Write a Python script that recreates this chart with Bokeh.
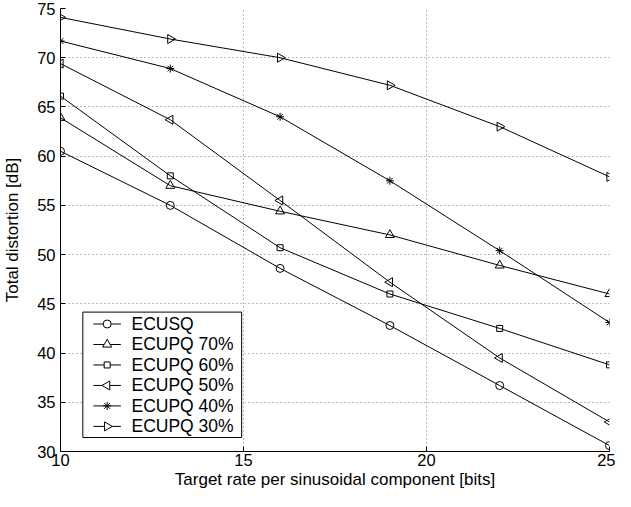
import math
from bokeh.plotting import figure
from bokeh.models import Range1d, FixedTicker
from bokeh.core.properties import value
from bokeh.embed import file_html
from bokeh.resources import INLINE

rate = [10, 13, 16, 19, 22, 25]
ecusq = [60.5, 55.0, 48.6, 42.8, 36.7, 30.6]
ecupq70 = [63.9, 57.0, 54.4, 52.0, 48.9, 46.0]
ecupq60 = [66.1, 58.0, 50.7, 46.0, 42.5, 38.8]
ecupq50 = [69.4, 63.7, 55.5, 47.2, 39.5, 33.0]
ecupq40 = [71.7, 68.9, 64.0, 57.5, 50.4, 43.1]
ecupq30 = [74.1, 71.9, 70.0, 67.2, 63.0, 57.9]

labels = ["ECUSQ", "ECUPQ 70%", "ECUPQ 60%", "ECUPQ 50%", "ECUPQ 40%", "ECUPQ 30%"]
series = [ecusq, ecupq70, ecupq60, ecupq50, ecupq40, ecupq30]
markers = ["circle", "triangle", "square", "triangle", "asterisk", "triangle"]
angles = [0, 0, 0, math.pi / 2, 0, -math.pi / 2]
sizes = [8, 9, 6, 9, 8, 9]

x_ticks = [10, 15, 20, 25]
y_ticks = [30, 35, 40, 45, 50, 55, 60, 65, 70, 75]

FONT = "Liberation Sans"

p = figure(width=615, height=491, output_backend="svg", toolbar_location=None,
           x_range=Range1d(10, 25), y_range=Range1d(30, 75),
           min_border_left=50, min_border_right=6, min_border_top=8, min_border_bottom=0)
p.outline_line_color = None
p.background_fill_color = "white"
p.border_fill_color = "white"

for ax in (p.xaxis[0], p.yaxis[0]):
    ax.major_label_text_font = FONT
    ax.major_label_text_font_size = "16.5px"
    ax.major_label_text_color = "black"
    ax.axis_label_text_font = FONT
    ax.axis_label_text_font_size = "17px"
    ax.axis_label_text_font_style = "normal"
    ax.axis_label_text_color = "black"
    ax.axis_line_color = "black"
    ax.major_tick_line_color = "black"
    ax.major_tick_in = 5
    ax.major_tick_out = 0
    ax.minor_tick_line_color = None

p.xaxis.ticker = FixedTicker(ticks=x_ticks)
p.yaxis.ticker = FixedTicker(ticks=y_ticks)
p.xaxis.axis_label = "Target rate per sinusoidal component [bits]"
p.yaxis.axis_label = "Total distortion [dB]"
p.xaxis.major_label_standoff = 2
p.xaxis.axis_label_standoff = 1
p.yaxis.major_label_standoff = 5
p.yaxis.axis_label_standoff = 12

for g in (p.xgrid[0], p.ygrid[0]):
    g.grid_line_color = "#777777"
    g.grid_line_dash = "1 3"
    g.grid_line_width = 1

for ys, mk, ang, sz in zip(series, markers, angles, sizes):
    p.line(rate, ys, line_color="black", line_width=1)
    p.scatter(rate, ys, marker=mk, angle=ang, size=sz, line_color="black",
              fill_color=None, line_width=1)

# legend (layout constants in axis units)
LEG_LEFT, LEG_RIGHT, LEG_BOTTOM, LEG_TOP = 10.61, 14.95, 31.42, 44.16
ROW0, ROW_STEP = 42.95, 2.08
GL_X0, GL_X1, GL_XM, TXT_X = 10.90, 11.65, 11.275, 11.94

p.quad(left=[LEG_LEFT], right=[LEG_RIGHT], bottom=[LEG_BOTTOM], top=[LEG_TOP],
       fill_color="white", line_color="black", line_width=1)
rows = [ROW0 - i * ROW_STEP for i in range(len(labels))]
p.segment(x0=[GL_X0] * len(rows), x1=[GL_X1] * len(rows), y0=rows, y1=rows,
          line_color="black", line_width=1)
for yr, mk, ang, sz in zip(rows, markers, angles, sizes):
    p.scatter([GL_XM], [yr], marker=mk, angle=ang, size=sz, line_color="black",
              fill_color="white", line_width=1)
p.text(x=[TXT_X] * len(rows), y=rows, text=labels, text_font=value(FONT),
       text_font_size="17.5px", text_baseline="middle", text_align="left",
       text_color="black")

open("out.html", "w").write(file_html(p, INLINE))
